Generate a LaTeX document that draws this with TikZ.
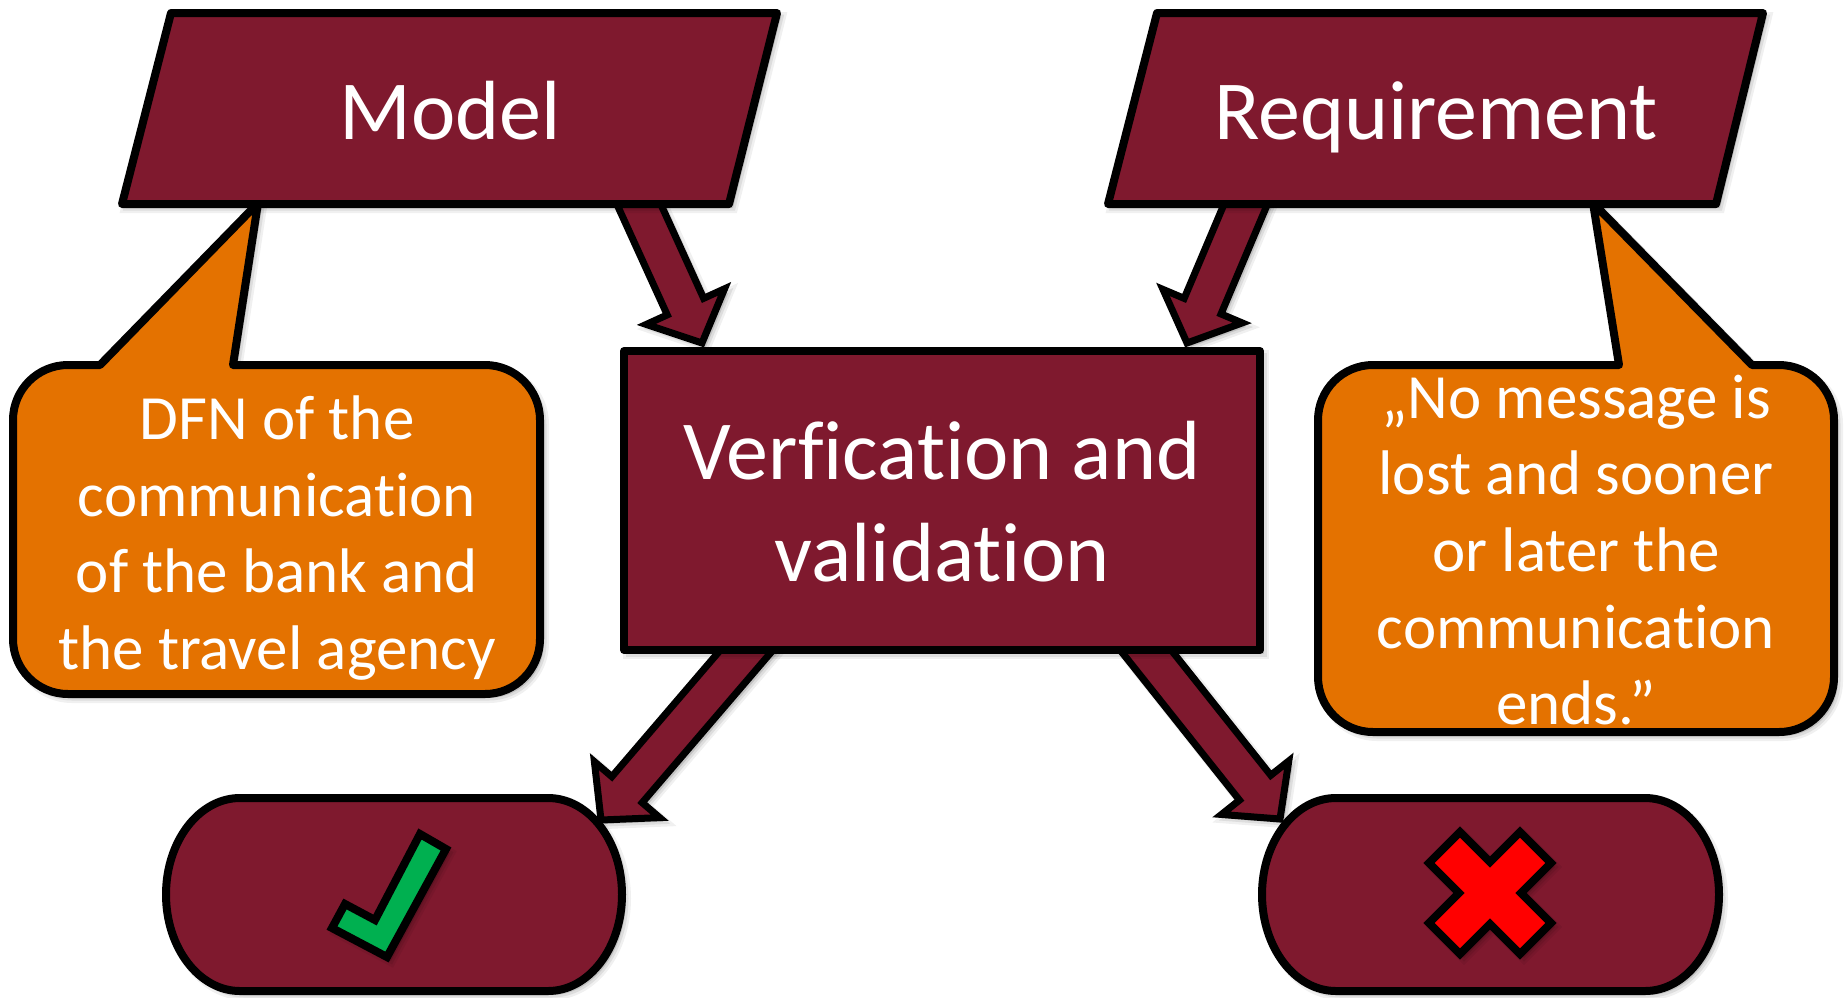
\documentclass[tikz,border=0pt]{standalone}
\usepackage{fontspec}
\setmainfont{Carlito}[Ligatures=NoCommon]
\usetikzlibrary{calc}

\definecolor{vvmaroon}{RGB}{127,25,46}
\definecolor{vvorange}{RGB}{228,114,0}
\definecolor{vvgreen}{RGB}{0,176,80}
\definecolor{vvred}{RGB}{255,0,0}

% half shaft width, half head width and head length of the block arrows
\newcommand{\arrShaft}{10pt}
\newcommand{\arrHead}{21.5pt}
\newcommand{\arrHeadLen}{20pt}

% block arrow from coordinate #1 (tail) to coordinate #2 (tip)
\newcommand{\blockarrow}[2]{%
  \coordinate (#1-hb) at ($(#2)!\arrHeadLen!(#1)$);
  \draw[blockarrow]
    ($(#1)!\arrShaft!90:(#2)$) --
    ($(#1-hb)!\arrShaft!90:(#2)$) --
    ($(#1-hb)!\arrHead!90:(#2)$) --
    (#2) --
    ($(#1-hb)!\arrHead!-90:(#2)$) --
    ($(#1-hb)!\arrShaft!-90:(#2)$) --
    ($(#1)!\arrShaft!-90:(#2)$) -- cycle;
}

\begin{document}
\begin{tikzpicture}[
  x=0.5pt, y=-0.5pt,
  softshadow/.style={
    preaction={draw=black, line width=5pt, opacity=0.06,
      transform canvas={shift={(2pt,-2pt)}}},
    preaction={draw=black, line width=2.5pt, opacity=0.08,
      transform canvas={shift={(2pt,-2pt)}}},
    preaction={fill=black, opacity=0.12,
      transform canvas={shift={(2pt,-2pt)}}}},
  outlined/.style={draw=black, line width=4pt, line join=round, softshadow},
  box/.style={outlined, fill=vvmaroon},
  callout/.style={outlined, fill=vvorange},
  blockarrow/.style={draw=black, line width=3.5pt, line join=miter,
    fill=vvmaroon, softshadow},
  symbolmark/.style={draw=black, line width=4pt, line join=miter, softshadow},
  bigtext/.style={text=white, inner sep=0pt, align=center,
    font=\fontsize{42}{51}\selectfont},
  smalltext/.style={text=white, inner sep=0pt, align=center,
    font=\fontsize{31.5}{38.3}\selectfont},
]
\fill[white] (0,0) rectangle (1845,997);
\useasboundingbox (0,0) rectangle (1845,997);

% speech bubbles (their pointers run under the parallelograms)
\draw[callout] (258,203) -- (100,365) -- (68,365)
  arc[start angle=90, end angle=180, radius=27.5pt] -- (13,639)
  arc[start angle=180, end angle=270, radius=27.5pt] -- (485,694)
  arc[start angle=270, end angle=360, radius=27.5pt] -- (540,420)
  arc[start angle=0, end angle=90, radius=27.5pt] -- (233,365) -- cycle;
\draw[callout] (1593,203) -- (1752,365) -- (1779,365)
  arc[start angle=90, end angle=0, radius=27.5pt] -- (1834,677)
  arc[start angle=0, end angle=-90, radius=27.5pt] -- (1373,732)
  arc[start angle=270, end angle=180, radius=27.5pt] -- (1318,420)
  arc[start angle=180, end angle=90, radius=27.5pt] -- (1619,365) -- cycle;

% result terminators
\draw[box] (240,798) -- (548,798)
  arc[start angle=90, end angle=-90, x radius=37pt, y radius=48.25pt]
  -- (240,991)
  arc[start angle=270, end angle=90, x radius=37pt, y radius=48.25pt] -- cycle;
\draw[box] (1336,798) -- (1645,798)
  arc[start angle=90, end angle=-90, x radius=37pt, y radius=48.25pt]
  -- (1336,991)
  arc[start angle=270, end angle=90, x radius=37pt, y radius=48.25pt] -- cycle;

% arrow end points
\coordinate (a1s) at (631,187);  \coordinate (a1t) at (702,343);
\coordinate (a2s) at (1253,187); \coordinate (a2t) at (1187,343);
\coordinate (a3s) at (769,624);  \coordinate (a3t) at (601,820);
\coordinate (a4s) at (1125,624); \coordinate (a4t) at (1280,819);
\blockarrow{a1s}{a1t}
\blockarrow{a2s}{a2t}
\blockarrow{a3s}{a3t}
\blockarrow{a4s}{a4t}

% inputs
\draw[box] (171,13) -- (777,13) -- (729,204) -- (122,204) -- cycle;
\draw[box] (1157,13) -- (1763,13) -- (1716,204) -- (1108,204) -- cycle;
% process
\draw[box] (624,351) rectangle (1260,650);

% texts
\node[bigtext, anchor=base] (model) at (450,139) {Model};
\node[bigtext, anchor=base] (req) at (1436,139) {Requirement};
\node[bigtext] (vv) at (942,502) {Verfication and\\validation};
\node[smalltext] (dfn) at (277,538) {DFN of the\\communication\\of the bank and\\the travel agency};
\node[smalltext] (ltl) at (1576,550) {„No message is\\lost and sooner\\or later the\\communication\\ends.”};

% tick and cross
\draw[symbolmark, fill=vvgreen] (420,834) -- (446,849) -- (387,957)
  -- (332,928) -- (345,904) -- (375,920) -- cycle;
\draw[symbolmark, fill=vvred, shift={(1490,893)}]
  (-30,-61) -- (0,-31) -- (30,-61) -- (61,-30) -- (31,0) -- (61,30)
  -- (30,61) -- (0,31) -- (-30,61) -- (-61,30) -- (-31,0) -- (-61,-30) -- cycle;
\end{tikzpicture}
\end{document}
